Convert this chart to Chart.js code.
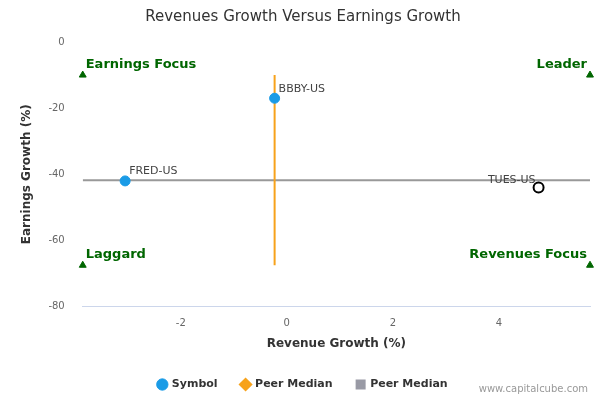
<!DOCTYPE html>
<html>
<head>
<meta charset="utf-8">
<script src="https://cdn.jsdelivr.net/npm/chart.js@4/dist/chart.umd.min.js"></script>
<style>
body { margin: 0; background: #fff; font-family: "DejaVu Sans", sans-serif; }
#wrap { position: relative; width: 600px; height: 400px; }
#foot { position: absolute; right: 12px; bottom: 6px; font-size: 10px; color: #999; }
</style>
</head>
<body>
<div id="wrap"><canvas id="chart" width="600" height="400"></canvas><div id="foot">www.capitalcube.com</div></div>
<script>
const symbols = ['BBBY-US', 'FRED-US', 'TUES-US'];
const revenueGrowth = [-0.23, -3.05, 4.75];
const earningsGrowth = [-17, -42, -44];
const medianRevenue = -0.23;
const medianEarnings = -41.8;
const xRange = [-3.85, 5.72];
const yRange = [-80, 0];
const quadrantNames = ['Earnings Focus', 'Leader', 'Laggard', 'Revenues Focus'];
const quadrantPoints = [[-3.85, -10], [5.72, -10], [-3.85, -67.5], [5.72, -67.5]];

const green = '#006600';

const labelPlugin = {
    id: 'labels',
    afterDatasetsDraw(chart) {
        const ctx = chart.ctx;
        const x = chart.scales.x, y = chart.scales.y;
        ctx.save();
        ctx.font = '11px "DejaVu Sans"';
        ctx.fillStyle = '#444';
        ctx.textBaseline = 'bottom';
        for (let i = 0; i < symbols.length; i++) {
            const px = x.getPixelForValue(revenueGrowth[i]);
            const py = y.getPixelForValue(earningsGrowth[i]);
            if (i == 2) {
                ctx.textAlign = 'right';
                ctx.fillText(symbols[i], px - 3, py - 2);
            } else {
                ctx.textAlign = 'left';
                ctx.fillText(symbols[i], px + 4, py - 4);
            }
        }
        ctx.font = 'bold 13px "DejaVu Sans"';
        ctx.fillStyle = green;
        for (let i = 0; i < quadrantNames.length; i++) {
            const px = x.getPixelForValue(quadrantPoints[i][0]);
            const py = y.getPixelForValue(quadrantPoints[i][1]);
            ctx.textAlign = (i % 2 == 0) ? 'left' : 'right';
            ctx.fillText(quadrantNames[i], px + ((i % 2 == 0) ? 3 : -3), py - 4);
        }
        ctx.restore();
    }
};

const ctx = document.getElementById('chart').getContext('2d');
new Chart(ctx, {
    type: 'scatter',
    data: {
        datasets: [
            {
                label: 'Symbol',
                data: revenueGrowth.slice(0, 2).map((v, i) => ({ x: v, y: earningsGrowth[i] })),
                backgroundColor: '#1a9be6',
                borderColor: '#1a9be6',
                pointRadius: 5,
                order: 0
            },
            {
                label: 'TUES',
                data: [{ x: revenueGrowth[2], y: earningsGrowth[2] }],
                backgroundColor: '#fff',
                borderColor: '#000',
                borderWidth: 2,
                pointRadius: 5,
                order: 0
            },
            {
                label: 'Peer Median',
                data: [{ x: medianRevenue, y: -10 }, { x: medianRevenue, y: -67.5 }],
                showLine: true,
                borderColor: '#f7a21b',
                backgroundColor: '#f7a21b',
                borderWidth: 2,
                pointRadius: 0,
                pointStyle: 'rectRot',
                order: 2
            },
            {
                label: 'Peer Median',
                data: [{ x: xRange[0], y: medianEarnings }, { x: xRange[1], y: medianEarnings }],
                showLine: true,
                borderColor: '#999',
                backgroundColor: '#999aa5',
                borderWidth: 2,
                pointRadius: 0,
                pointStyle: 'rect',
                order: 2
            },
            {
                label: 'quadrants',
                data: quadrantPoints.map(p => ({ x: p[0], y: p[1] })),
                pointStyle: 'triangle',
                backgroundColor: green,
                borderColor: green,
                pointRadius: 4,
                clip: false,
                order: 1
            }
        ]
    },
    options: {
        responsive: false,
        animation: false,
        layout: { padding: { left: 16, right: 10, top: 0, bottom: 0 } },
        plugins: {
            title: {
                display: true,
                text: 'Revenues Growth Versus Earnings Growth',
                color: '#333',
                font: { family: 'DejaVu Sans', size: 15, weight: 'normal' },
                padding: { top: 8, bottom: 16 }
            },
            legend: {
                position: 'bottom',
                labels: {
                    filter: item => item.text == 'Symbol' || item.text == 'Peer Median',
                    usePointStyle: true,
                    boxWidth: 8,
                    boxHeight: 8,
                    color: '#333',
                    font: { family: 'DejaVu Sans', size: 11, weight: 'bold' },
                    padding: 24,
                    generateLabels(chart) {
                        const items = Chart.defaults.plugins.legend.labels.generateLabels(chart);
                        items.forEach(it => {
                            const ds = chart.data.datasets[it.datasetIndex];
                            if (it.datasetIndex == 0) it.pointStyle = 'circle';
                            else if (ds.pointStyle) it.pointStyle = ds.pointStyle;
                            it.fillStyle = ds.backgroundColor;
                            it.strokeStyle = ds.backgroundColor;
                        });
                        return items;
                    }
                }
            },
            tooltip: { enabled: false }
        },
        scales: {
            x: {
                min: xRange[0], max: xRange[1],
                grid: { display: false },
                border: { color: '#ccd6eb' },
                afterBuildTicks: axis => { axis.ticks = [-2, 0, 2, 4].map(v => ({ value: v })); },
                ticks: { color: '#666', font: { family: 'DejaVu Sans', size: 10 } },
                title: { display: true, text: 'Revenue Growth (%)', color: '#333', font: { family: 'DejaVu Sans', size: 12, weight: 'bold' } }
            },
            y: {
                min: yRange[0], max: yRange[1],
                grid: { display: false },
                border: { display: false },
                ticks: { stepSize: 20, color: '#666', padding: 10, font: { family: 'DejaVu Sans', size: 10 } },
                title: { display: true, text: 'Earnings Growth (%)', color: '#333', font: { family: 'DejaVu Sans', size: 12, weight: 'bold' } }
            }
        }
    },
    plugins: [labelPlugin]
});
</script>
</body>
</html>
